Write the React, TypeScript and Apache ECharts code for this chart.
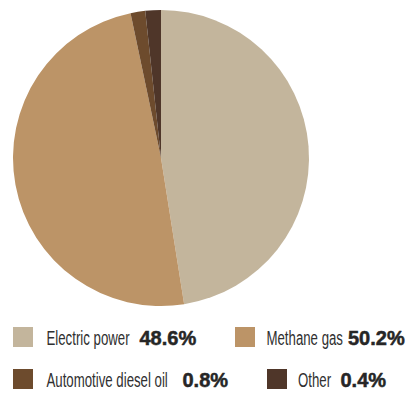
import React, { useEffect, useRef } from "react";
import * as echarts from "echarts";

const categories = ["Electric power", "Methane gas", "Automotive diesel oil", "Other"];
const sliceValues = [47.5, 49.2, 1.6, 1.7];
const shareLabels = ["48.6%", "50.2%", "0.8%", "0.4%"];
const colors = ["#c3b59c", "#bc9467", "#6d4b2d", "#4f3629"];

const legendPos = [
  { x: 13, y: 327, tx: 46.5, vx: 139.5 },
  { x: 235, y: 327, tx: 266.5, vx: 348 },
  { x: 13, y: 369, tx: 46.5, vx: 182.5 },
  { x: 267, y: 369, tx: 298, vx: 340.5 },
];

export default function App() {
  const ref = useRef<HTMLDivElement>(null);
  useEffect(() => {
    if (!ref.current) return;
    const chart = echarts.init(ref.current, null, { renderer: "svg" });
    const graphic: any[] = [];
    categories.forEach((c, i) => {
      const p = legendPos[i];
      graphic.push({
        type: "rect",
        shape: { x: p.x, y: p.y, width: 20, height: 20 },
        style: { fill: colors[i] },
      });
      graphic.push({
        type: "text",
        x: p.tx,
        y: p.y + 11,
        scaleX: 0.63,
        style: {
          text: c,
          fontFamily: "Liberation Sans",
          fontSize: 21,
          fill: "#303030",
          verticalAlign: "middle",
        },
      });
      graphic.push({
        type: "text",
        x: p.vx,
        y: p.y + 11,
        style: {
          text: shareLabels[i],
          fontFamily: "Liberation Sans",
          fontWeight: "bold",
          fontSize: 20,
          fill: "#262626",
          stroke: "#262626",
          lineWidth: 0.5,
          verticalAlign: "middle",
        },
      });
    });
    chart.setOption({
      animation: false,
      backgroundColor: "#ffffff",
      series: [
        {
          type: "pie",
          center: [161, 158],
          radius: [0, 148],
          startAngle: 90,
          clockwise: true,
          label: { show: false },
          labelLine: { show: false },
          emphasis: { disabled: true },
          itemStyle: { borderWidth: 0 },
          data: categories.map((c, i) => ({
            name: c,
            value: sliceValues[i],
            itemStyle: { color: colors[i] },
          })),
        },
      ],
      graphic,
    });
    return () => chart.dispose();
  }, []);
  return (
    <div
      ref={ref}
      style={{ position: "fixed", left: 0, top: 0, width: 413, height: 393 }}
    />
  );
}
